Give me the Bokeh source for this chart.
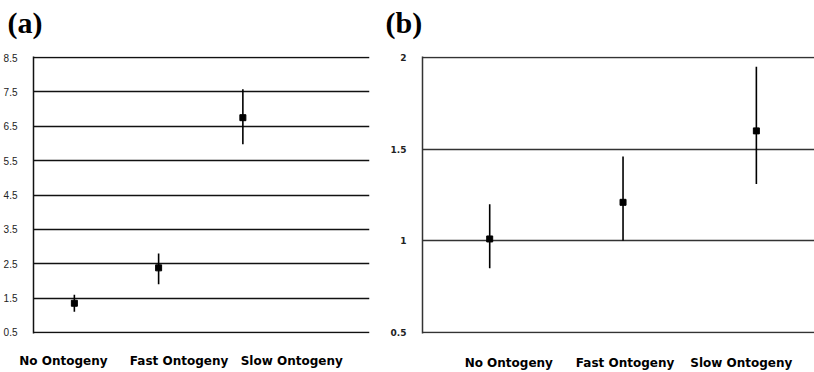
from bokeh.plotting import figure
from bokeh.layouts import row, column
from bokeh.models import Range1d, FixedTicker, ColumnDataSource
from bokeh.core.properties import value
from bokeh.embed import file_html
from bokeh.resources import INLINE

categories = ["No Ontogeny", "Fast Ontogeny", "Slow Ontogeny"]
a_mean = [1.35, 2.38, 6.75]
a_low = [1.1, 1.9, 5.98]
a_high = [1.6, 2.8, 7.58]
b_mean = [1.01, 1.21, 1.6]
b_low = [0.85, 1.0, 1.31]
b_high = [1.2, 1.46, 1.95]
a_yticks = [0.5, 1.5, 2.5, 3.5, 4.5, 5.5, 6.5, 7.5, 8.5]
b_yticks = [0.5, 1, 1.5, 2]
panel_names = ["(a)", "(b)"]
xpos = [1, 2, 3]

STRIP_H = 44

# strip holding the panel letters
strip = figure(width=814, height=STRIP_H, output_backend="svg", toolbar_location=None,
               x_range=Range1d(0, 814), y_range=Range1d(STRIP_H, 0),
               x_axis_type=None, y_axis_type=None, title=None,
               min_border_left=0, min_border_right=0, min_border_top=0,
               min_border_bottom=0)
strip.outline_line_color = None
strip.xgrid.grid_line_color = None
strip.ygrid.grid_line_color = None
strip.text(x=[7, 385], y=[22, 22], text=panel_names,
           text_font=value("Liberation Serif"), text_font_style="bold",
           text_font_size="30px", text_color="black", text_baseline="middle")


def make_panel(mean, low, high, yticks, xr, ypad, label_pos, width, borders,
               grid_color, ytick_font, ytick_style, ytick_size, ystandoff, xstandoff):
    p = figure(width=width, height=372 - STRIP_H, output_backend="svg",
               toolbar_location=None, title=None,
               x_range=Range1d(*xr),
               y_range=Range1d(yticks[0] - ypad, yticks[-1] + ypad),
               min_border_left=borders[0], min_border_right=borders[1],
               min_border_top=borders[2], min_border_bottom=borders[3])
    p.outline_line_color = None
    p.background_fill_color = "white"
    p.border_fill_color = "white"
    p.xgrid.grid_line_color = None
    p.ygrid.grid_line_color = grid_color
    p.ygrid.grid_line_width = 1.5
    p.ygrid.ticker = FixedTicker(ticks=yticks)
    p.yaxis.ticker = FixedTicker(ticks=yticks)
    p.yaxis.major_tick_line_color = None
    p.yaxis.minor_tick_line_color = None
    p.yaxis.axis_line_color = grid_color
    p.yaxis.axis_line_width = 1.5
    p.yaxis.major_label_text_font = ytick_font
    p.yaxis.major_label_text_font_style = ytick_style
    p.yaxis.major_label_text_font_size = ytick_size
    p.yaxis.major_label_text_color = "#222222"
    p.yaxis.major_label_standoff = ystandoff
    p.yaxis.major_label_overrides = {t: ("%g" % t) for t in yticks}

    p.xaxis.ticker = FixedTicker(ticks=label_pos)
    p.xaxis.major_label_overrides = {lp: c for lp, c in zip(label_pos, categories)}
    p.xaxis.axis_line_color = None
    p.xaxis.major_tick_line_color = None
    p.xaxis.minor_tick_line_color = None
    p.xaxis.major_label_text_font = "DejaVu Sans"
    p.xaxis.major_label_text_font_style = "bold"
    p.xaxis.major_label_text_font_size = "12px"
    p.xaxis.major_label_text_color = "black"
    p.xaxis.major_label_standoff = xstandoff

    src = ColumnDataSource(dict(x=xpos, mean=mean, low=low, high=high))
    p.segment(x0="x", y0="low", x1="x", y1="high", source=src,
              line_color="black", line_width=1.6)
    p.scatter(x="x", y="mean", source=src, marker="square", size=6,
              fill_color="black", line_color="black")
    return p


pa = make_panel(a_mean, a_low, a_high, a_yticks, (0.515, 4.503), 0.03,
                [0.870, 2.243, 3.580], 384, (32, 15, 56 - STRIP_H, 31), "#111111",
                "Liberation Sans", "normal", "10px", 10, 14)
pb = make_panel(b_mean, b_low, b_high, b_yticks, (0.496, 3.436), 0.006,
                [1.143, 2.015, 2.887], 430, (38, 0, 54 - STRIP_H, 26), "#333333",
                "DejaVu Sans", "bold", "9px", 10, 16)

layout = column(strip, row(pa, pb))
open("out.html", "w").write(file_html(layout, INLINE))
